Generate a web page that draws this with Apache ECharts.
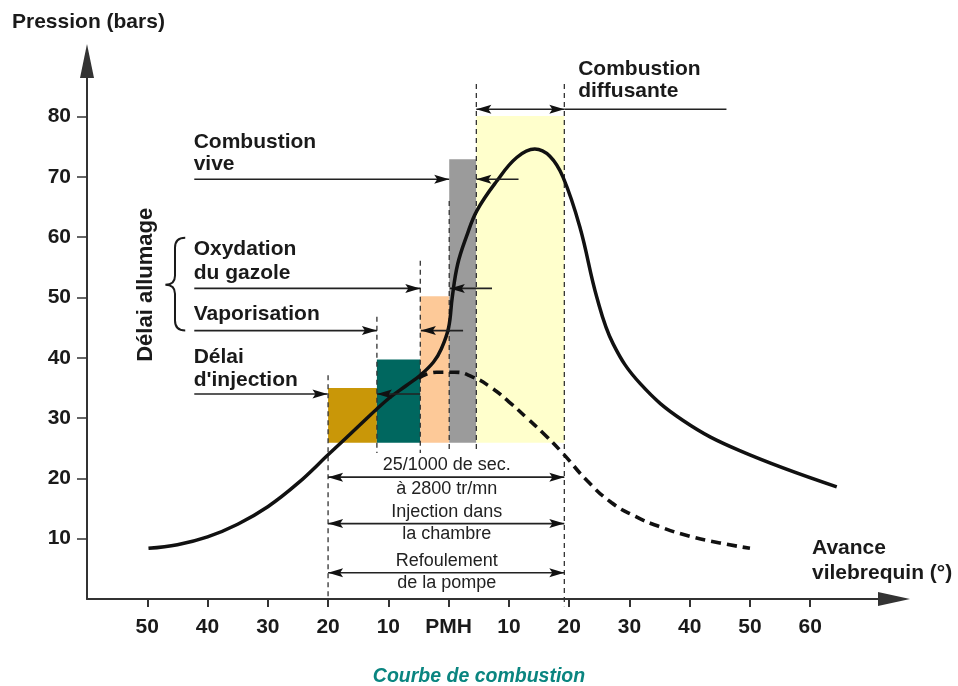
<!DOCTYPE html>
<html><head><meta charset="utf-8">
<script src="https://cdn.jsdelivr.net/npm/echarts@6/dist/echarts.min.js"></script>
<style>html,body{margin:0;padding:0;background:#fff}#c{width:958px;height:686px}</style>
</head><body><div id="c"></div>
<script>
const FONT = '"Liberation Sans", Arial, sans-serif';

// ---- axis ticks ----
const xTickValues = [-50, -40, -30, -20, -10, 0, 10, 20, 30, 40, 50, 60];
const yTickValues = [10, 20, 30, 40, 50, 60, 70, 80];

// ---- curves [crank angle (deg), pressure (bar)] ----
const combustionCurve = [
  [-49.8, 8.4], [-45, 9.0], [-40, 10.3], [-35, 12.4], [-30, 15.3], [-25, 19.2],
  [-20, 23.9], [-15, 28.6], [-10, 33.2], [-7, 35.4], [-4.7, 37.1], [-2.5, 39.3],
  [-1.2, 41.5], [0, 45.0], [0.6, 50.0], [1.5, 55.5], [3.0, 60.2], [4.7, 64.4],
  [8.0, 69.3], [11.3, 73.2], [14.3, 74.6], [16.8, 73.4], [19.0, 69.9],
  [21.8, 61.6], [24.6, 50.0], [27.3, 42.3], [31.8, 35.7], [38.9, 29.6],
  [48.3, 24.6], [64.4, 18.6]
];
const compressionCurve = [
  [-5, 36.6], [-2, 37.6], [1, 37.6], [4, 36.8], [7, 35.1],
  [10, 32.7], [13, 30.0], [16, 27.2], [19, 24.1], [23, 19.6],
  [27, 16.0], [31, 13.7], [35, 12.0], [40, 10.4], [45, 9.3], [50, 8.4]
];

// ---- phase blocks ----
const phaseStart = [-20, -11.9, -4.7, 0.1, 4.6];
const phaseEnd = [-11.9, -4.7, 0.1, 4.6, 19.2];
const phaseTop = [35.0, 39.7, 50.2, 72.9, 80.1];
const phaseBase = [25.9, 25.9, 25.9, 25.9, 25.9];
const phaseColors = ['#c99708', '#00675f', '#fdc998', '#9b9b9b', '#ffffcc'];

// ---- dashed guides ----
const guideX = [-20, -11.9, -4.7, 0.1, 4.6, 19.2];
const guideTop = [37.1, 46.8, 56.1, 66.0, 85.4, 85.4];
const guideBottom = [-1.0, 24.2, 24.2, 24.2, 24.2, -1.2];

// ---- arrows: from, to, level, heads (0 none, 1 start, 2 end, 3 both) ----
const arrowFrom  = [4.6, 19.2, -42.2, 4.6, -42.2, 0.2, -42.2, -4.6, -42.2, -11.9, -20, -20, -20];
const arrowTo    = [19.2, 46.1, 0.1, 11.6, -4.7, 7.2, -11.9, 2.4, -20.1, -4.7, 19.2, 19.2, 19.2];
const arrowLevel = [81.2, 81.2, 69.6, 69.6, 51.5, 51.5, 44.5, 44.5, 34.0, 34.0, 20.2, 12.5, 4.35];
const arrowHeads = [3, 0, 2, 1, 2, 1, 2, 1, 2, 1, 3, 3, 3];

// ---- phase labels (left aligned, baseline at level) ----
const labelText = ['Combustion', 'diffusante', 'Combustion', 'vive', 'Oxydation', 'du gazole',
                   'Vaporisation', 'Délai', "d'injection"];
const labelX = [21.5, 21.5, -42.3, -42.3, -42.3, -42.3, -42.3, -42.3, -42.3];
const labelY = [86.7, 83.1, 74.6, 71.0, 56.9, 52.8, 46.0, 39.0, 35.1];

// ---- duration labels (centred, baseline at level) ----
const durText = ['25/1000 de sec.', 'à 2800 tr/mn', 'Injection dans', 'la chambre', 'Refoulement', 'de la pompe'];
const durX = [-0.3, -0.3, -0.3, -0.3, -0.3, -0.3];
const durY = [21.3, 17.2, 13.5, 9.8, 5.3, 1.65];

// ---- brace + vertical label ----
const braceX = [-43.7, -45.4, -47.0];  // tip x, spine x, point x
const braceY = [59.9, 52.1, 44.5];     // top, middle, bottom
const sideLabel = 'Délai allumage';
const sideLabelPos = [-50.3, 52.1];

const chart = echarts.init(document.getElementById('c'), null, {renderer: 'canvas'});

function xFmt(v) { return v === 0 ? 'PMH' : String(Math.abs(v)); }

const phaseData = phaseStart.map((s, i) => [s, phaseEnd[i], phaseTop[i], phaseBase[i], i]);
const guideData = guideX.map((x, i) => [x, guideTop[i], guideBottom[i]]);
const arrowData = arrowFrom.map((a, i) => [a, arrowTo[i], arrowLevel[i], arrowHeads[i]]);
const labelData = labelText.map((t, i) => [labelX[i], labelY[i], i]);
const durData = durText.map((t, i) => [durX[i], durY[i], i]);

const option = {
  animation: false,
  backgroundColor: '#ffffff',
  grid: {left: 87, right: 64, top: 61, bottom: 87, containLabel: false, outerBoundsMode: 'none'},
  xAxis: {
    type: 'value', min: -60, max: 73.9, interval: 10,
    axisLine: {show: true, onZero: false, symbol: ['none', 'triangle'], symbolSize: [14, 32],
      lineStyle: {color: '#333', width: 2}},
    axisTick: {show: true, length: 8, customValues: xTickValues, lineStyle: {color: '#333', width: 2}},
    axisLabel: {customValues: xTickValues, formatter: xFmt, margin: 18,
      fontFamily: FONT, fontSize: 21, fontWeight: 'bold', color: '#1a1a1a'},
    splitLine: {show: false}
  },
  yAxis: {
    type: 'value', min: 0, max: 89.2, interval: 10,
    axisLine: {show: true, onZero: false, symbol: ['none', 'triangle'], symbolSize: [14, 34],
      lineStyle: {color: '#333', width: 2}},
    axisTick: {show: true, length: 10, customValues: yTickValues, lineStyle: {color: '#333', width: 1.5}},
    axisLabel: {customValues: yTickValues, margin: 16,
      fontFamily: FONT, fontSize: 21, fontWeight: 'bold', color: '#1a1a1a'},
    splitLine: {show: false}
  },
  series: [
    {
      type: 'custom', name: 'phases', z: 1,
      data: phaseData,
      renderItem: function (params, api) {
        const p1 = api.coord([api.value(0), api.value(2)]);
        const p2 = api.coord([api.value(1), api.value(3)]);
        return {type: 'rect', shape: {x: p1[0], y: p1[1], width: p2[0] - p1[0], height: p2[1] - p1[1]},
          style: {fill: phaseColors[api.value(4)]}};
      }
    },
    {
      type: 'custom', name: 'guides', z: 2,
      data: guideData,
      renderItem: function (params, api) {
        const p1 = api.coord([api.value(0), api.value(1)]);
        const p2 = api.coord([api.value(0), api.value(2)]);
        return {type: 'line', shape: {x1: p1[0], y1: p1[1], x2: p2[0], y2: p2[1]},
          style: {stroke: '#333', lineWidth: 1.3, lineDash: [5, 4]}};
      }
    },
    {
      type: 'line', name: 'compression', z: 3, data: compressionCurve, smooth: 0.5,
      showSymbol: false, lineStyle: {color: '#111', width: 3.6, type: [10, 6]}
    },
    {
      type: 'line', name: 'combustion', z: 4, data: combustionCurve, smooth: 0.4,
      showSymbol: false, lineStyle: {color: '#111', width: 3.5}
    },
    {
      type: 'custom', name: 'arrows', z: 5,
      data: arrowData,
      renderItem: function (params, api) {
        const y = api.value(2), heads = api.value(3);
        const p1 = api.coord([api.value(0), y]);
        const p2 = api.coord([api.value(1), y]);
        const L = 15, W = 4.5;
        const ch = [{type: 'line', shape: {x1: p1[0], y1: p1[1], x2: p2[0], y2: p2[1]},
          style: {stroke: '#222', lineWidth: 1.6}}];
        if (heads & 1) ch.push({type: 'polygon', shape: {points: [[p1[0], p1[1]], [p1[0] + L, p1[1] - W], [p1[0] + L - 3, p1[1]], [p1[0] + L, p1[1] + W]]}, style: {fill: '#111'}});
        if (heads & 2) ch.push({type: 'polygon', shape: {points: [[p2[0], p2[1]], [p2[0] - L, p2[1] - W], [p2[0] - L + 3, p2[1]], [p2[0] - L, p2[1] + W]]}, style: {fill: '#111'}});
        return {type: 'group', children: ch};
      }
    },
    {
      type: 'custom', name: 'labels', z: 6,
      data: labelData,
      renderItem: function (params, api) {
        const p = api.coord([api.value(0), api.value(1)]);
        return {type: 'text', x: p[0], y: p[1] - 7,
          style: {text: labelText[api.value(2)], font: 'bold 21px ' + FONT, fill: '#1a1a1a',
            align: 'left', verticalAlign: 'middle'}};
      }
    },
    {
      type: 'custom', name: 'durations', z: 6,
      data: durData,
      renderItem: function (params, api) {
        const p = api.coord([api.value(0), api.value(1)]);
        return {type: 'text', x: p[0], y: p[1] - 6,
          style: {text: durText[api.value(2)], font: '18px ' + FONT, fill: '#222',
            align: 'center', verticalAlign: 'middle'}};
      }
    },
    {
      type: 'custom', name: 'brace', z: 6,
      data: [[sideLabelPos[0], sideLabelPos[1]]],
      renderItem: function (params, api) {
        const tTop = api.coord([braceX[0], braceY[0]]);
        const sTop = api.coord([braceX[1], braceY[0]]);
        const mid = api.coord([braceX[2], braceY[1]]);
        const tBot = api.coord([braceX[0], braceY[2]]);
        const sx = sTop[0];
        const d = 'M' + tTop[0] + ' ' + tTop[1] +
          ' Q' + sx + ' ' + tTop[1] + ' ' + sx + ' ' + (tTop[1] + 10) +
          ' L' + sx + ' ' + (mid[1] - 9) +
          ' Q' + sx + ' ' + mid[1] + ' ' + mid[0] + ' ' + mid[1] +
          ' Q' + sx + ' ' + mid[1] + ' ' + sx + ' ' + (mid[1] + 9) +
          ' L' + sx + ' ' + (tBot[1] - 10) +
          ' Q' + sx + ' ' + tBot[1] + ' ' + tBot[0] + ' ' + tBot[1];
        const lp = api.coord([api.value(0), api.value(1)]);
        return {type: 'group', children: [
          {type: 'path', shape: {pathData: d}, style: {stroke: '#1a1a1a', lineWidth: 2, fill: null}},
          {type: 'text', x: lp[0], y: lp[1], rotation: Math.PI / 2,
            style: {text: sideLabel, font: 'bold 22px ' + FONT, fill: '#1a1a1a', align: 'center', verticalAlign: 'middle'}}
        ]};
      }
    }
  ],
  graphic: [
    {type: 'text', left: 12, top: 12, style: {text: 'Pression (bars)', font: 'bold 21px ' + FONT, fill: '#1a1a1a'}},
    {type: 'text', left: 812, top: 536, style: {text: 'Avance\nvilebrequin (°)', font: 'bold 21px ' + FONT, fill: '#1a1a1a', lineHeight: 25}},
    {type: 'text', left: 'center', top: 667, style: {text: 'Courbe de combustion', font: 'italic bold 19.5px ' + FONT, fill: '#0a8580'}}
  ]
};
chart.setOption(option);
</script></body></html>
